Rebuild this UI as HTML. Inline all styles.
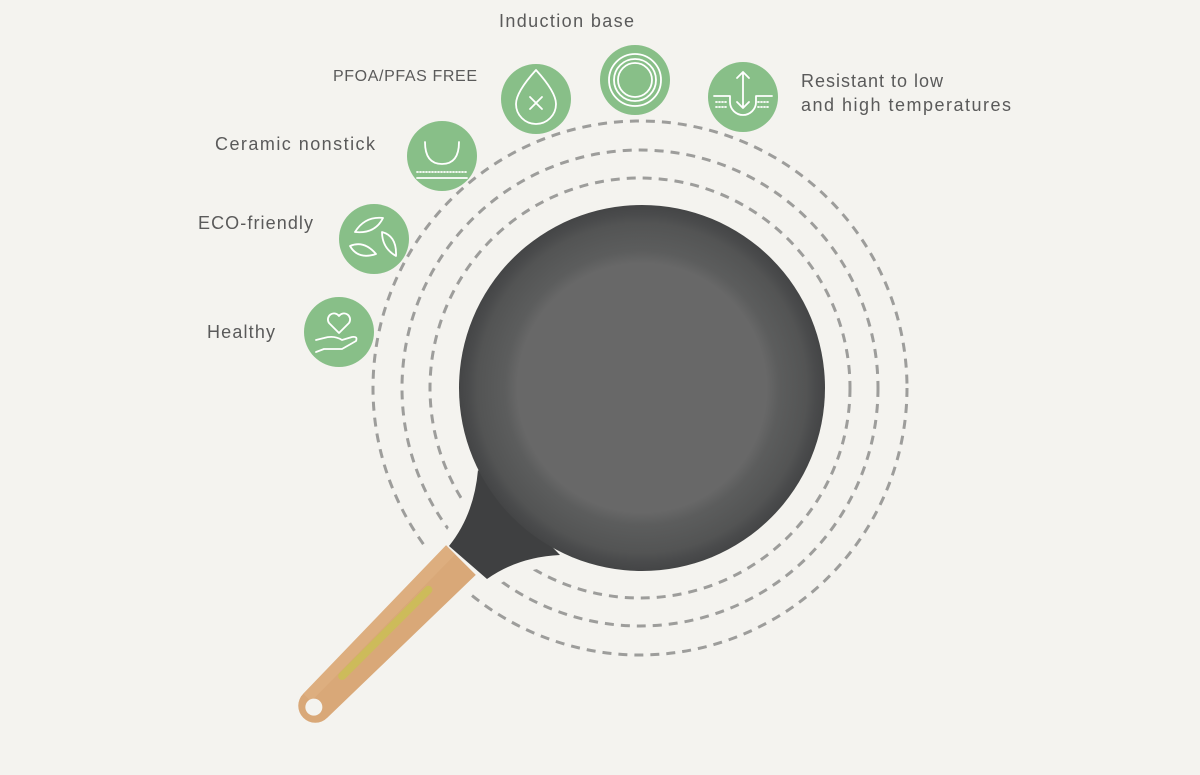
<!DOCTYPE html>
<html><head><meta charset="utf-8"><style>
html,body{margin:0;padding:0;background:#f4f3ef;}
svg{display:block}
text{font-family:"Liberation Sans",sans-serif;font-size:18px;fill:#5a5a5a;}
</style></head><body>
<svg width="1200" height="775" viewBox="0 0 1200 775" xmlns="http://www.w3.org/2000/svg">
<defs>
<radialGradient id="bowl" cx="0.5" cy="0.5" r="0.5">
<stop offset="0.68" stop-color="#686868"/>
<stop offset="0.75" stop-color="#5c5d5d"/>
<stop offset="0.9" stop-color="#535454"/>
<stop offset="0.95" stop-color="#4a4b4c"/>
<stop offset="1" stop-color="#444546"/>
</radialGradient>
</defs>
<rect width="1200" height="775" fill="#f4f3ef"/>
<g fill="none" stroke="#9d9d9b" stroke-width="3" stroke-dasharray="9 7">
<circle cx="640" cy="388" r="267"/>
<circle cx="640" cy="388" r="238"/>
<circle cx="640" cy="388" r="210"/>
</g>
<g fill="#f4f3ef" stroke="#f4f3ef" stroke-width="22" stroke-linejoin="round">
<circle cx="642" cy="388" r="183"/>
<g transform="translate(468,553) rotate(-45)">
<rect x="-240" y="-21" width="240" height="42" rx="21"/>
</g>
<path d="M449,546 Q474,515 478,470 L560,555 Q518,557 487,579 Z"/>
</g>
<g transform="translate(468,553) rotate(-45)">
<path d="M-216,-17 L-10,-21 L-10,21 L-216,17 A17,17 0 0 1 -216,-17 Z" fill="#d9a878"/>
<path d="M-216,-17 L-10,-21 L-10,-8 L-216,-6 Z" fill="#e0b283" opacity="0.6"/>
<circle cx="-218" cy="0" r="8.5" fill="#f4f3ef"/>
<rect x="-180" y="-6" width="130" height="8" rx="4" fill="#cdbb5a"/>
</g>
<path d="M449,546 Q474,515 478,470 L560,555 Q518,557 487,579 Z" fill="#3f4041"/>
<circle cx="642" cy="388" r="183" fill="url(#bowl)"/>
<g fill="#88bf88">
<circle cx="339" cy="332" r="35"/>
<circle cx="374" cy="239" r="35"/>
<circle cx="442" cy="156" r="35"/>
<circle cx="536" cy="99" r="35"/>
<circle cx="635" cy="80" r="35"/>
<circle cx="743" cy="97" r="35"/>
</g>
<g fill="none" stroke="#fff" stroke-width="1.8" stroke-linecap="round" stroke-linejoin="round">
<path d="M339,333 l-10,-10 a5,5 0 0 1 10,-7 a5,5 0 0 1 10,7 z"/>
<path d="M316,340 l8,-2 q10,-3 18,2 l10,-3 q6,-1 4,4 l-14,8 l-18,0 l-8,3"/>
<path d="M355,232 q10,-16 28,-14 q-8,16 -28,14 z M382,232 q15,4 14,24 q-14,-8 -14,-24z M350,246 q14,-6 26,8 q-18,6 -26,-8z"/>
<path d="M425,142 q0,22 17,22 q17,0 17,-22"/>
<path d="M417,178 h50" /><path d="M417,172 h50" stroke-dasharray="1 2"/>
<path d="M536,70 q-20,22 -20,34 a20,20 0 0 0 40,0 q0,-12 -20,-34z"/>
<path d="M530,97 l12,12 M542,97 l-12,12"/>
<circle cx="635" cy="80" r="26"/><circle cx="635" cy="80" r="21"/><circle cx="635" cy="80" r="17"/>
<path d="M743,72 v36 M737,78 l6,-6 6,6 M737,102 l6,6 6,-6"/>
<path d="M714,96 h16 v6 a13,13 0 0 0 26,0 v-6 h16"/>
<path d="M716,102 h12 M716,107 h12 M758,102 h12 M758,107 h12" stroke-dasharray="1 2"/>
</g>
<text x="499" y="27" textLength="135" lengthAdjust="spacing">Induction base</text>
<text x="333" y="81" style="font-size:16px" textLength="144" lengthAdjust="spacing">PFOA/PFAS FREE</text>
<text x="215" y="150" textLength="160" lengthAdjust="spacing">Ceramic nonstick</text>
<text x="198" y="229" textLength="115" lengthAdjust="spacing">ECO-friendly</text>
<text x="207" y="338" textLength="68" lengthAdjust="spacing">Healthy</text>
<text x="801" y="87" textLength="142" lengthAdjust="spacing">Resistant to low</text>
<text x="801" y="111" textLength="210" lengthAdjust="spacing">and high temperatures</text>
</svg>
</body></html>
